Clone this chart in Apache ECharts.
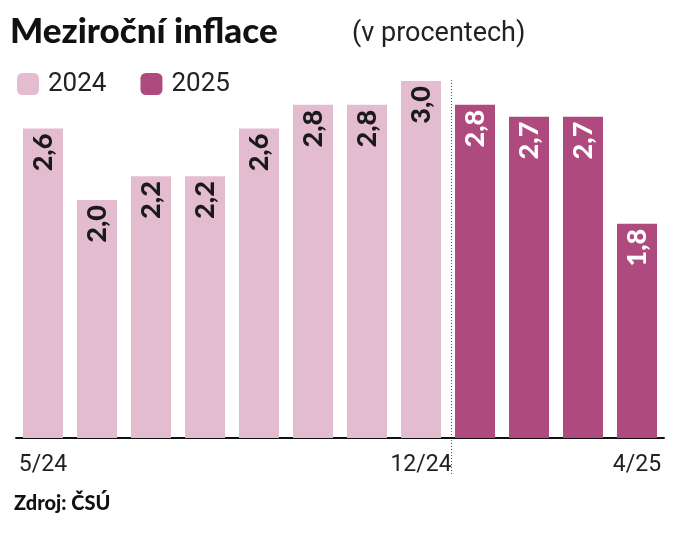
<!DOCTYPE html>
<html>
<head>
<meta charset="utf-8">
<script src="https://cdn.jsdelivr.net/npm/echarts@6/dist/echarts.min.js"></script>
<style>html,body{margin:0;padding:0;background:#fff}#c{width:680px;height:537px}</style>
</head>
<body>
<div id="c"></div>
<script>
var months = ['5/24','6/24','7/24','8/24','9/24','10/24','11/24','12/24','1/25','2/25','3/25','4/25'];
var values2024 = [2.6, 2.0, 2.2, 2.2, 2.6, 2.8, 2.8, 3.0, null, null, null, null];
var values2025 = [null, null, null, null, null, null, null, null, 2.8, 2.7, 2.7, 1.8];
var shownLabels = ['5/24', '12/24', '4/25'];

function fmt(p) { return p.value == null ? '' : p.value.toFixed(1).replace('.', ','); }

var chart = echarts.init(document.getElementById('c'));
chart.setOption({
    animation: false,
    textStyle: { fontFamily: 'Roboto' },
    grid: { left: 16, right: 16, top: 81, bottom: 99 },
    legend: {
        left: 12, top: 66, itemWidth: 22, itemHeight: 22, itemGap: 34,
        textStyle: { fontSize: 26, color: '#222', fontFamily: 'Roboto', padding: [0, 0, 0, 4] },
        data: ['2024', '2025']
    },
    xAxis: {
        type: 'category', data: months,
        axisLine: { lineStyle: { color: '#111', width: 2 } },
        axisTick: { show: false },
        axisLabel: {
            interval: 0, fontSize: 23, color: '#222', margin: 16,
            formatter: function (v) { return shownLabels.indexOf(v) >= 0 ? v : ''; }
        }
    },
    yAxis: { type: 'value', min: 0, max: 3.0, show: false, splitLine: { show: false } },
    series: [
        {
            name: '2024', type: 'bar', stack: 'a', data: values2024, barWidth: 40,
            itemStyle: { color: '#e4bccf' },
            label: { show: true, position: 'insideTop', rotate: 90, align: 'right', verticalAlign: 'middle',
                offset: [0, 0], formatter: fmt, fontSize: 27, fontWeight: 900, fontFamily: 'Lato', color: '#1a1a1a' }
        },
        {
            name: '2025', type: 'bar', stack: 'a', data: values2025, barWidth: 40,
            itemStyle: { color: '#ae4a7e' },
            label: { show: true, position: 'insideTop', rotate: 90, align: 'right', verticalAlign: 'middle',
                offset: [0, 0], formatter: fmt, fontSize: 27, fontWeight: 900, fontFamily: 'Lato', color: '#fff' }
        }
    ],
    graphic: [
        { type: 'text', left: 10, top: 14, style: { text: 'Meziroční inflace', font: '900 35px Lato', fill: '#111' } },
        { type: 'text', left: 352, top: 21, style: { text: '(v procentech)', font: '27px Roboto', fill: '#222' } },
        { type: 'text', left: 14, top: 494, style: { text: 'Zdroj: ČSÚ', font: '900 20px Lato', fill: '#111' } },
        { type: 'line', shape: { x1: 451.5, y1: 80, x2: 451.5, y2: 476 },
          style: { stroke: '#555', lineWidth: 1, lineDash: [1, 2] } }
    ]
});
</script>
</body>
</html>
